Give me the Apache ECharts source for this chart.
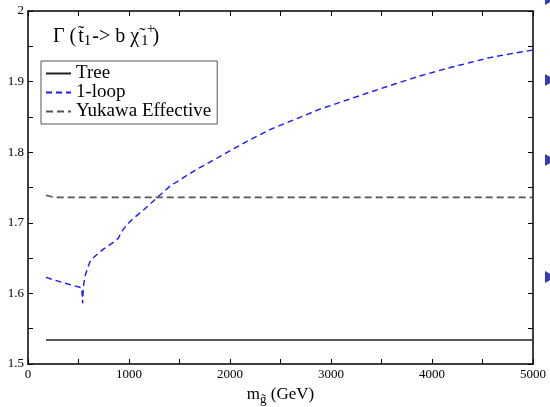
<!DOCTYPE html>
<html>
<head>
<meta charset="utf-8">
<script src="https://cdn.jsdelivr.net/npm/echarts@6/dist/echarts.min.js"></script>
<style>html,body{margin:0;padding:0;background:#fff;}#c{width:550px;height:407px;}</style>
</head>
<body>
<div id="c"></div>
<script>
// ---- data ----
const xTicks = [0, 1000, 2000, 3000, 4000, 5000];
const yTicks = [1.5, 1.6, 1.7, 1.8, 1.9, 2];
const treeX = [178, 5000];
const treeY = [1.534, 1.534];
const loopX = [178, 350, 530, 537, 541, 545, 552, 564, 590, 614, 650, 696, 750, 812, 860, 894, 915, 940, 977, 1040, 1109, 1190, 1274, 1406, 1650, 1901, 2150, 2396, 2650, 2891, 3140, 3386, 3640, 3881, 4130, 4376, 4574, 4800, 5000];
const loopY = [1.6226, 1.615, 1.608, 1.598, 1.586, 1.600, 1.613, 1.624, 1.636, 1.645, 1.651, 1.657, 1.663, 1.669, 1.674, 1.678, 1.684, 1.690, 1.697, 1.706, 1.714, 1.724, 1.735, 1.752, 1.774, 1.794, 1.814, 1.832, 1.847, 1.861, 1.873, 1.885, 1.897, 1.908, 1.918, 1.927, 1.934, 1.940, 1.9446];
const yukX = [178, 260, 5000];
const yukY = [1.739, 1.736, 1.736];
const seriesNames = ['Tree', '1-loop', 'Yukawa Effective'];

const zip = (xs, ys) => xs.map((x, i) => [x, ys[i]]);
const FONT = '"Liberation Serif", "Times New Roman", serif';

const chart = echarts.init(document.getElementById('c'), null, {renderer: 'canvas'});

const axisCommon = {
  axisLine: {show: true, onZero: false, lineStyle: {color: '#000', width: 1.5}},
  axisTick: {show: true, inside: true, length: 5, lineStyle: {color: '#000', width: 1}},
  minorTick: {show: true, splitNumber: 2, length: 5, lineStyle: {color: '#000', width: 1}},
  splitLine: {show: false},
};

const subStyle = {fontFamily: FONT, fontSize: 15, verticalAlign: 'bottom', color: '#000'};

const option = {
  backgroundColor: '#fff',
  animation: false,
  grid: {left: 28, right: 17, top: 11, bottom: 43, containLabel: false, outerBoundsMode: 'none'},
  title: {
    text: 'Γ {g|(}t̃{s|1}-> b {c|χ̃}{s2|1})',
    left: 53, top: 25,
    padding: 0,
    textStyle: {
      fontFamily: FONT, fontSize: 20, fontWeight: 'normal', color: '#000',
      rich: {
        g: {fontFamily: FONT, fontSize: 20, color: '#000', padding: [0, 2, 0, 0]},
        c: {fontFamily: FONT, fontSize: 20, color: '#000', padding: [0, 2, 0, 0]},
        s: Object.assign({padding: [9, 1, 0, 0]}, subStyle),
        s2: Object.assign({padding: [9, 4, 0, 0]}, subStyle)
      }
    }
  },
  legend: {
    orient: 'vertical',
    left: 41, top: 61,
    padding: [3, 6, 3, 4],
    itemWidth: 25, itemHeight: 12, itemGap: 0,
    borderColor: '#555', borderWidth: 1, borderRadius: 0,
    itemStyle: {opacity: 0},
    data: seriesNames,
    textStyle: {fontFamily: FONT, fontSize: 19, color: '#000', lineHeight: 19}
  },
  xAxis: [
    Object.assign({}, axisCommon, {
      type: 'value', min: 0, max: 5000, interval: 1000, position: 'bottom',
      name: 'm{sub|g̃} (GeV)', nameLocation: 'middle', nameGap: 19,
      nameTextStyle: {fontFamily: FONT, fontSize: 17, color: '#000',
        rich: {sub: {fontFamily: FONT, fontSize: 13, padding: [10, 0, 0, 0], verticalAlign: 'bottom', color: '#000'}}},
      axisLabel: {fontFamily: FONT, fontSize: 13, color: '#000', margin: 4,
        formatter: v => xTicks.includes(v) ? String(v) : ''}
    }),
    Object.assign({}, axisCommon, {
      type: 'value', min: 0, max: 5000, interval: 1000, position: 'top',
      axisLabel: {show: false}
    })
  ],
  yAxis: [
    Object.assign({}, axisCommon, {
      type: 'value', min: 1.5, max: 2, interval: 0.1, position: 'left',
      axisLabel: {fontFamily: FONT, fontSize: 13, color: '#000', margin: 4,
        formatter: v => { const t = yTicks.find(a => Math.abs(a - v) < 1e-6); return t === undefined ? '' : String(t); }}
    }),
    Object.assign({}, axisCommon, {
      type: 'value', min: 1.5, max: 2, interval: 0.1, position: 'right',
      axisLabel: {show: false}
    })
  ],
  series: [
    {name: seriesNames[0], type: 'line', data: zip(treeX, treeY), symbol: 'none',
      lineStyle: {color: '#222', width: 1.5, type: 'solid'}, itemStyle: {color: '#222'}},
    {name: seriesNames[1], type: 'line', data: zip(loopX, loopY), symbol: 'none', smooth: false,
      lineStyle: {color: '#1a1aff', width: 1.4, type: [6, 4]}, itemStyle: {color: '#1a1aff'}},
    {name: seriesNames[2], type: 'line', data: zip(yukX, yukY), symbol: 'none',
      lineStyle: {color: '#555', width: 1.6, type: [7, 4]}, itemStyle: {color: '#555'}}
  ],
  graphic: [
    {type: 'text', x: 147, y: 22, z: 100, style: {text: '+', fontFamily: FONT, fontSize: 14, fill: '#000'}},
    {type: 'polygon', shape: {points: [[545, -7], [556, -1], [545, 5]]}, style: {fill: '#3a3ab8'}},
    {type: 'polygon', shape: {points: [[545, 74], [556, 80], [545, 86]]}, style: {fill: '#3a3ab8'}},
    {type: 'polygon', shape: {points: [[545, 154], [556, 160], [545, 166]]}, style: {fill: '#3a3ab8'}},
    {type: 'polygon', shape: {points: [[545, 271], [556, 277], [545, 283]]}, style: {fill: '#3a3ab8'}}
  ]
};
chart.setOption(option);
</script>
</body>
</html>
